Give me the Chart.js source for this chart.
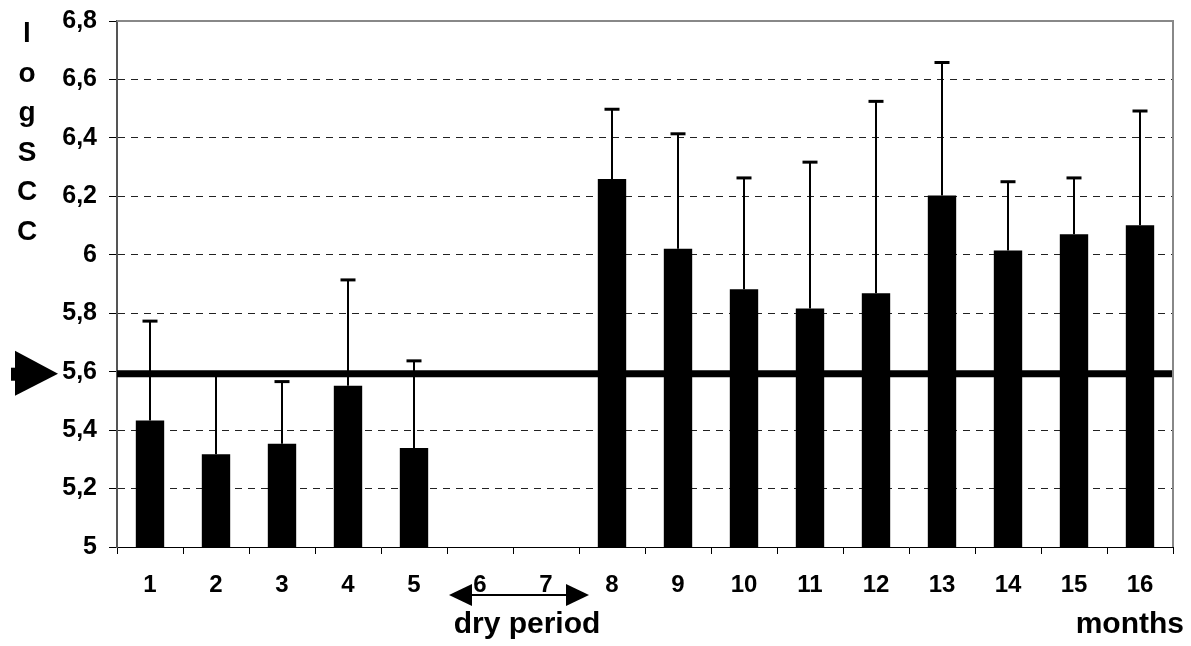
<!DOCTYPE html>
<html>
<head>
<meta charset="utf-8">
<script src="https://cdn.jsdelivr.net/npm/chart.js@4.4.1/dist/chart.umd.min.js"></script>
<style>
  html, body { margin: 0; padding: 0; background: #fff; }
  #wrap { width: 1191px; height: 646px; }
</style>
</head>
<body>
<div id="wrap"><canvas id="sccChart" width="1191" height="646"></canvas></div>
<script>
// months after start, mean log SCC and the top of the error bar (mean + sd)
const months = ['1', '2', '3', '4', '5', '6', '7', '8', '9', '10', '11', '12', '13', '14', '15', '16'];
const meanLogScc = [5.433, 5.317, 5.353, 5.552, 5.339, null, null, 6.259, 6.021, 5.882, 5.816, 5.868, 6.203, 6.015, 6.070, 6.101];
const upperSd = [5.773, 5.59, 5.566, 5.914, 5.637, null, null, 6.498, 6.414, 6.263, 6.317, 6.525, 6.658, 6.250, 6.263, 6.492];
const refLimit = 5.593;
const yMin = 5, yMax = 6.8, yStep = 0.2;
const yTitle = ['l', 'o', 'g', 'S', 'C', 'C'];

const FONT = '"Liberation Sans", Arial, sans-serif';

function fmtTick(v) {
    return String(Number(v.toFixed(1))).replace('.', ',');
}

const extras = {
    id: 'extras',
    afterDatasetsDraw(chart) {
        const ctx = chart.ctx;
        const x = chart.scales.x;
        const y = chart.scales.y;
        const area = chart.chartArea;

        // error bars (upper only)
        ctx.save();
        ctx.strokeStyle = '#000';
        meanLogScc.forEach((v, i) => {
            if (v === null) return;
            const px = Math.round(x.getPixelForValue(i));
            const y0 = y.getPixelForValue(v);
            const y1 = y.getPixelForValue(upperSd[i]);
            ctx.lineWidth = 2;
            ctx.beginPath();
            ctx.moveTo(px, y0);
            ctx.lineTo(px, y1);
            ctx.stroke();
            ctx.lineWidth = 3;
            ctx.beginPath();
            ctx.moveTo(px - 7.5, y1);
            ctx.lineTo(px + 7.5, y1);
            ctx.stroke();
        });

        // reference line
        const ry = y.getPixelForValue(refLimit);
        ctx.lineWidth = 7;
        ctx.beginPath();
        ctx.moveTo(area.left, ry);
        ctx.lineTo(area.right, ry);
        ctx.stroke();

        // marker at the left
        ctx.fillStyle = '#000';
        ctx.fillRect(11, ry - 6, 5, 13);
        ctx.beginPath();
        ctx.moveTo(15, ry - 23);
        ctx.lineTo(58, ry);
        ctx.lineTo(15, ry + 22);
        ctx.closePath();
        ctx.fill();

        // top and right border
        ctx.strokeStyle = '#888';
        ctx.lineWidth = 2;
        ctx.beginPath();
        ctx.moveTo(area.left, area.top);
        ctx.lineTo(area.right, area.top);
        ctx.lineTo(area.right, area.bottom);
        ctx.stroke();

        // dry period arrow
        const ax0 = x.getPixelForValue(5) - 31;
        const ax1 = x.getPixelForValue(6) + 43;
        const ay = 595;
        ctx.strokeStyle = '#000';
        ctx.lineWidth = 2;
        ctx.beginPath();
        ctx.moveTo(ax0 + 20, ay);
        ctx.lineTo(ax1 - 20, ay);
        ctx.stroke();
        ctx.beginPath();
        ctx.moveTo(ax0, ay);
        ctx.lineTo(ax0 + 23, ay - 11);
        ctx.lineTo(ax0 + 23, ay + 11);
        ctx.closePath();
        ctx.fill();
        ctx.beginPath();
        ctx.moveTo(ax1, ay);
        ctx.lineTo(ax1 - 23, ay - 11);
        ctx.lineTo(ax1 - 23, ay + 11);
        ctx.closePath();
        ctx.fill();

        // texts
        ctx.font = 'bold 30px ' + FONT;
        ctx.textBaseline = 'alphabetic';
        ctx.textAlign = 'center';
        ctx.fillText('dry period', 527, 633);
        ctx.textAlign = 'right';
        ctx.fillText('months', 1184, 633);

        ctx.font = 'bold 28px ' + FONT;
        ctx.textAlign = 'center';
        yTitle.forEach((ch, i) => {
            ctx.fillText(ch, 27, 42 + i * 39.6);
        });
        ctx.restore();
    }
};

const ctx = document.getElementById('sccChart').getContext('2d');
const sccChart = new Chart(ctx, {
    type: 'bar',
    data: {
        labels: months,
        datasets: [{
            label: 'log SCC',
            data: meanLogScc,
            backgroundColor: '#000',
            borderWidth: 0,
            barPercentage: 0.43,
            categoryPercentage: 1
        }]
    },
    options: {
        responsive: false,
        animation: false,
        layout: {
            padding: { left: 0, right: 18, top: 21, bottom: 0 }
        },
        plugins: {
            legend: { display: false },
            tooltip: { enabled: false }
        },
        scales: {
            x: {
                offset: true,
                afterFit: (axis) => {
                    axis.height = 99;
                    axis.paddingLeft = 0;
                    axis.paddingRight = 0;
                },
                grid: {
                    offset: true,
                    drawOnChartArea: false,
                    tickLength: 7,
                    color: '#000'
                },
                border: { color: '#000', width: 1 },
                ticks: {
                    color: '#000',
                    padding: 17,
                    font: { family: FONT, size: 24, weight: 'bold' }
                }
            },
            y: {
                min: yMin,
                max: yMax,
                afterFit: (axis) => {
                    axis.width = 117;
                    axis.paddingTop = 0;
                    axis.paddingBottom = 0;
                },
                grid: {
                    color: (c) => {
                        const v = c.tick ? c.tick.value : null;
                        if (v === null) return 'rgba(0,0,0,0)';
                        if (Math.abs(v - yMin) < 1e-6 || Math.abs(v - yMax) < 1e-6) return 'rgba(0,0,0,0)';
                        return '#222';
                    },
                    tickColor: '#000',
                    tickLength: 8,
                    lineWidth: 1
                },
                border: { color: '#555', width: 2, dash: [7, 6] },
                ticks: {
                    stepSize: yStep,
                    color: '#000',
                    padding: 12,
                    font: { family: FONT, size: 25, weight: 'bold' },
                    callback: (v) => fmtTick(v)
                }
            }
        }
    },
    plugins: [extras]
});
</script>
</body>
</html>
